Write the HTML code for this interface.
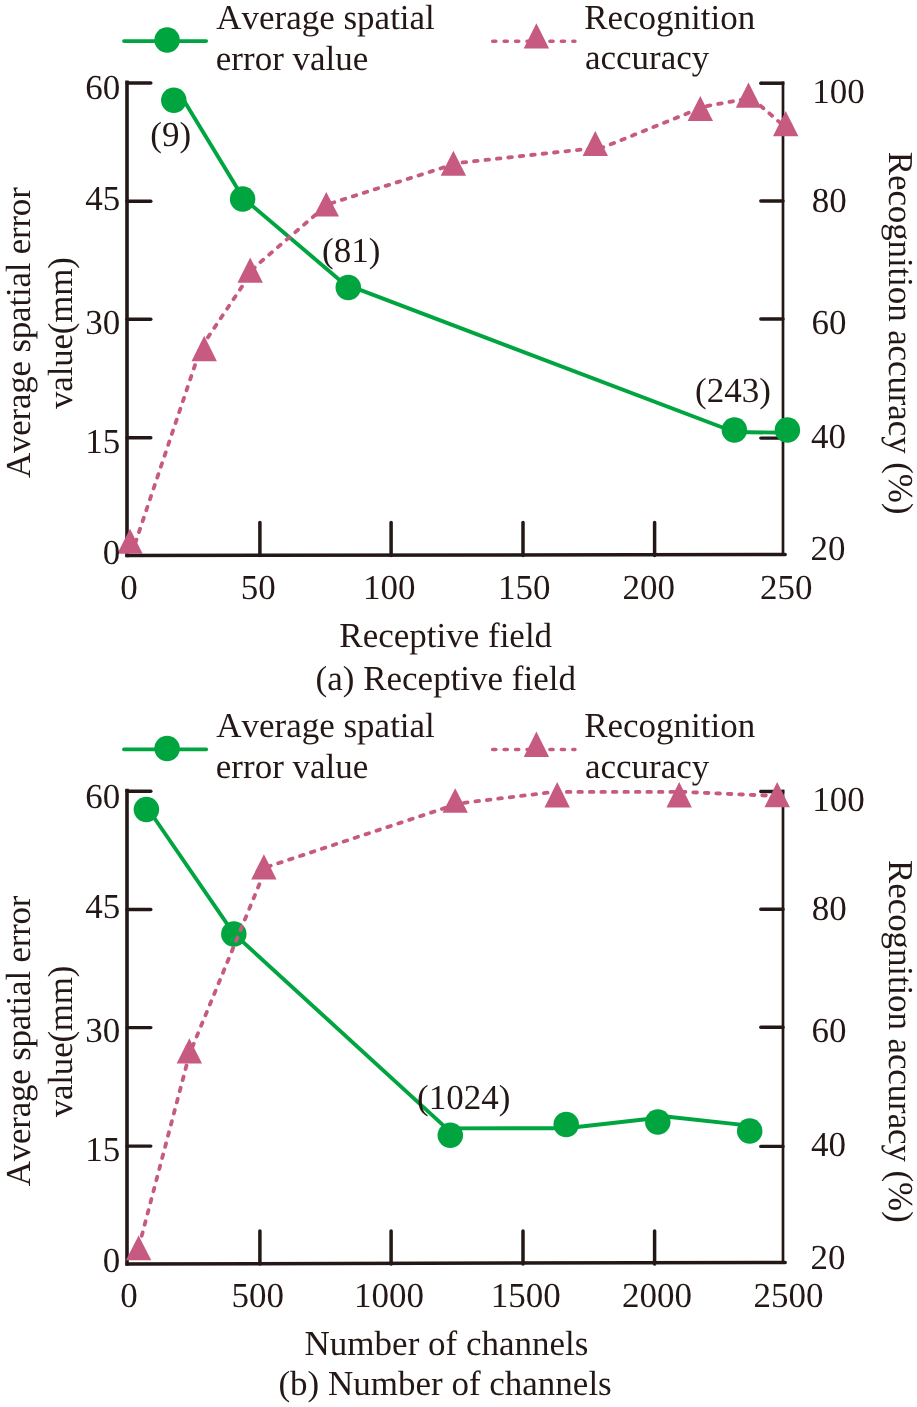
<!DOCTYPE html>
<html><head><meta charset="utf-8"><style>
html,body{margin:0;padding:0;background:#fff;}
svg{display:block;will-change:transform;}
text{font-family:"Liberation Serif",serif;font-size:35px;font-kerning:none;text-rendering:geometricPrecision;}
</style></head><body>
<svg width="917" height="1407" viewBox="0 0 917 1407">

<path d="M127,80.4V557.2" fill="none" stroke="#231815" stroke-width="3.6"/>
<path d="M127,83.0H150.8" stroke="#231815" stroke-width="3.5" stroke-linecap="round"/>
<path d="M127,555.40L785.2,554.50" fill="none" stroke="#231815" stroke-width="3.5" stroke-linecap="round"/>
<path d="M783,81.4V555.4" fill="none" stroke="#231815" stroke-width="2.7"/>
<path d="M760.8,83.2H784.35" stroke="#231815" stroke-width="3.5"/>
<circle cx="760.8" cy="83.2" r="1.75" fill="#231815"/>
<path d="M127,201.2H150.8" stroke="#231815" stroke-width="3.4" stroke-linecap="round"/>
<path d="M127,319.3H150.8" stroke="#231815" stroke-width="3.4" stroke-linecap="round"/>
<path d="M127,437.8H150.8" stroke="#231815" stroke-width="3.4" stroke-linecap="round"/>
<path d="M783,201.0H760.8" stroke="#231815" stroke-width="3.4" stroke-linecap="round"/>
<path d="M783,319.0H760.8" stroke="#231815" stroke-width="3.4" stroke-linecap="round"/>
<path d="M783,438.1H760.8" stroke="#231815" stroke-width="3.4" stroke-linecap="round"/>
<path d="M259.9,522.6V555.4" stroke="#231815" stroke-width="3.5" stroke-linecap="round"/>
<path d="M391.1,522.6V555.4" stroke="#231815" stroke-width="3.5" stroke-linecap="round"/>
<path d="M523.0,522.6V555.4" stroke="#231815" stroke-width="3.5" stroke-linecap="round"/>
<path d="M654.6,522.6V555.4" stroke="#231815" stroke-width="3.5" stroke-linecap="round"/>
<path d="M127,788.7V1265.8" fill="none" stroke="#231815" stroke-width="3.6"/>
<path d="M127,791.3H150.8" stroke="#231815" stroke-width="3.5" stroke-linecap="round"/>
<path d="M127,1264.00L785.2,1262.40" fill="none" stroke="#231815" stroke-width="3.5" stroke-linecap="round"/>
<path d="M783,789.7V1264.0" fill="none" stroke="#231815" stroke-width="2.7"/>
<path d="M760.8,791.5H784.35" stroke="#231815" stroke-width="3.5"/>
<circle cx="760.8" cy="791.5" r="1.75" fill="#231815"/>
<path d="M127,909.5H150.8" stroke="#231815" stroke-width="3.4" stroke-linecap="round"/>
<path d="M127,1027.6H150.8" stroke="#231815" stroke-width="3.4" stroke-linecap="round"/>
<path d="M127,1146.1H150.8" stroke="#231815" stroke-width="3.4" stroke-linecap="round"/>
<path d="M783,909.3H760.8" stroke="#231815" stroke-width="3.4" stroke-linecap="round"/>
<path d="M783,1027.3H760.8" stroke="#231815" stroke-width="3.4" stroke-linecap="round"/>
<path d="M783,1146.4H760.8" stroke="#231815" stroke-width="3.4" stroke-linecap="round"/>
<path d="M259.9,1230.9V1264.0" stroke="#231815" stroke-width="3.5" stroke-linecap="round"/>
<path d="M391.1,1230.9V1264.0" stroke="#231815" stroke-width="3.5" stroke-linecap="round"/>
<path d="M523.0,1230.9V1264.0" stroke="#231815" stroke-width="3.5" stroke-linecap="round"/>
<path d="M654.6,1230.9V1264.0" stroke="#231815" stroke-width="3.5" stroke-linecap="round"/>
<polyline points="181.0,95.7 243.2,198.1 344.3,283.9 734.4,432.0 787.4,432.8" fill="none" stroke="#00a540" stroke-width="3.9" stroke-linejoin="round" stroke-linecap="round"/>
<g fill="#00a540"><circle cx="173.8" cy="100.3" r="12.75"/><circle cx="242.6" cy="199" r="12.75"/><circle cx="348.3" cy="287.4" r="12.75"/><circle cx="734.4" cy="429.9" r="12.75"/><circle cx="787.4" cy="429.9" r="12.75"/></g>
<polyline points="135.3,543.0 200.7,348.1 255.6,266.3 327.6,204.4 457.7,163.0 603.8,147.1 704.4,106.5 751.4,97.9 785.7,127.5" fill="none" stroke="#c65a80" stroke-width="3.8" stroke-linejoin="round" stroke-linecap="round" stroke-dasharray="3.6 7.9"/>
<g fill="#c65a80"><path d="M130.0,528.8L142.7,553.7L117.3,553.7Z"/><path d="M204.2,335.8L216.9,361.2L191.5,361.2Z"/><path d="M250.2,257.6L262.9,282.7L237.5,282.7Z"/><path d="M326.3,192.0L339.0,216.6L313.6,216.6Z"/><path d="M453.4,150.8L466.1,175.7L440.7,175.7Z"/><path d="M595.3,131.0L608.0,156.0L582.6,156.0Z"/><path d="M700.3,96.1L713.0,121.1L687.6,121.1Z"/><path d="M748.5,82.6L761.2,107.8L735.8,107.8Z"/><path d="M785.7,111.0L798.4,136.2L773.0,136.2Z"/></g>
<polyline points="146.4,806.5 233.8,933.6 446.6,1128.4 566.0,1128.2 668.0,1116.8 749.7,1125.6" fill="none" stroke="#00a540" stroke-width="3.9" stroke-linejoin="round" stroke-linecap="round"/>
<g fill="#00a540"><circle cx="146.4" cy="809.6" r="12.75"/><circle cx="233.8" cy="934.1" r="12.75"/><circle cx="450.3" cy="1135.3" r="12.75"/><circle cx="566.2" cy="1124.5" r="12.75"/><circle cx="657.8" cy="1122" r="12.75"/><circle cx="749.7" cy="1130.9" r="12.75"/></g>
<polyline points="138.8,1247.0 189.5,1054.0 266.4,867.2 458.8,803.4 554.4,791.9 683.0,791.9 777.2,796.0" fill="none" stroke="#c65a80" stroke-width="3.8" stroke-linejoin="round" stroke-linecap="round" stroke-dasharray="3.6 7.9"/>
<g fill="#c65a80"><path d="M138.6,1235.6L151.3,1260.2L125.9,1260.2Z"/><path d="M189.3,1038.3L202.0,1063.4L176.6,1063.4Z"/><path d="M263.9,854.2L276.6,879.4L251.2,879.4Z"/><path d="M455.2,788.3L467.9,812.7L442.5,812.7Z"/><path d="M557.2,782.1L569.9,807.6L544.5,807.6Z"/><path d="M679.2,782.1L691.9,807.6L666.5,807.6Z"/><path d="M777.2,782.0L789.9,807.2L764.5,807.2Z"/></g>
<path d="M123.9,41.1H206.3" stroke="#00a540" stroke-width="3.6" stroke-linecap="round"/>
<circle cx="167.1" cy="40.1" r="12.75" fill="#00a540"/>
<path d="M492.7,41.2H574.9" stroke="#c65a80" stroke-width="3.6" stroke-linecap="round" stroke-dasharray="3.1 8.35" fill="none"/>
<g fill="#c65a80"><path d="M536.4,23.2L549.1,48.6L523.7,48.6Z"/></g>
<path d="M123.9,749.4H206.3" stroke="#00a540" stroke-width="3.6" stroke-linecap="round"/>
<circle cx="167.1" cy="748.4" r="12.75" fill="#00a540"/>
<path d="M492.7,749.5H574.9" stroke="#c65a80" stroke-width="3.6" stroke-linecap="round" stroke-dasharray="3.1 8.35" fill="none"/>
<g fill="#c65a80"><path d="M536.4,731.5L549.1,756.9L523.7,756.9Z"/></g>
<g fill="#231815">
<text x="120.2" y="99.3" text-anchor="end">60</text>
<text x="120.2" y="210.1" text-anchor="end">45</text>
<text x="120.2" y="334.1" text-anchor="end">30</text>
<text x="120.2" y="453.1" text-anchor="end">15</text>
<text x="120.2" y="563.9" text-anchor="end">0</text>
<text x="812.2" y="102.7">100</text>
<text x="811.8" y="211.9">80</text>
<text x="811.4" y="333.9">60</text>
<text x="810.9" y="447.9">40</text>
<text x="810.5" y="560.4">20</text>
<text x="120.3" y="598.7">0</text>
<text x="240.8" y="598.7">50</text>
<text x="363.1" y="598.7">100</text>
<text x="498.1" y="598.7">150</text>
<text x="622.6" y="598.7">200</text>
<text x="760.0" y="598.7">250</text>
<text transform="translate(29.9,478.0) rotate(-90)" letter-spacing="-0.23">Average spatial error</text>
<text transform="translate(72.4,408.9) rotate(-90)" letter-spacing="-0.23">value(mm)</text>
<text transform="translate(889.1,151.8) rotate(90)" letter-spacing="-0.12">Recognition accuracy (%)</text>
<text x="216.2" y="28.5">Average spatial</text>
<text x="215.8" y="70.0">error value</text>
<text x="584.2" y="28.5">Recognition</text>
<text x="584.9" y="69.4">accuracy</text>
<text x="120.2" y="807.6" text-anchor="end">60</text>
<text x="120.2" y="918.4" text-anchor="end">45</text>
<text x="120.2" y="1042.4" text-anchor="end">30</text>
<text x="120.2" y="1161.4" text-anchor="end">15</text>
<text x="120.2" y="1272.2" text-anchor="end">0</text>
<text x="812.2" y="811.0">100</text>
<text x="811.8" y="920.2">80</text>
<text x="811.4" y="1042.2">60</text>
<text x="810.9" y="1156.2">40</text>
<text x="810.5" y="1268.7">20</text>
<text x="120.3" y="1307.0">0</text>
<text x="231.5" y="1307.0">500</text>
<text x="354.1" y="1307.0">1000</text>
<text x="490.8" y="1307.0">1500</text>
<text x="621.9" y="1307.0">2000</text>
<text x="753.5" y="1307.0">2500</text>
<text transform="translate(29.9,1186.3) rotate(-90)" letter-spacing="-0.23">Average spatial error</text>
<text transform="translate(72.4,1117.2) rotate(-90)" letter-spacing="-0.23">value(mm)</text>
<text transform="translate(889.1,860.1) rotate(90)" letter-spacing="-0.12">Recognition accuracy (%)</text>
<text x="216.2" y="736.8">Average spatial</text>
<text x="215.8" y="778.3">error value</text>
<text x="584.2" y="736.8">Recognition</text>
<text x="584.9" y="777.7">accuracy</text>
<text x="150.3" y="145.6">(9)</text>
<text x="322.0" y="262.3">(81)</text>
<text x="695.0" y="402.4">(243)</text>
<text x="417.0" y="1108.9">(1024)</text>
<text x="339.3" y="647.4">Receptive field</text>
<text x="315.6" y="689.9">(a) Receptive field</text>
<text x="304.6" y="1354.8">Number of channels</text>
<text x="278.4" y="1395.0">(b) Number of channels</text>
</g>
</svg>
</body></html>
